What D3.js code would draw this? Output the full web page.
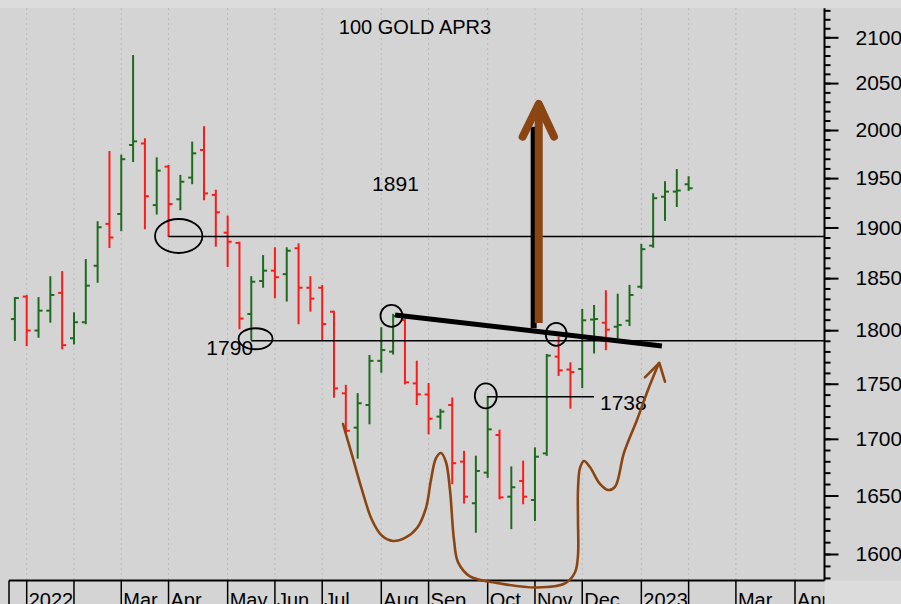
<!DOCTYPE html>
<html>
<head>
<meta charset="utf-8">
<script src="https://cdn.jsdelivr.net/npm/d3@7"></script>
<style>
  html, body { margin: 0; padding: 0; background: #d4d4d4; }
  svg { display: block; }
  text { font-family: "Liberation Sans", Arial, sans-serif; fill: #000; }
</style>
</head>
<body>
<svg id="chart" width="901" height="604"></svg>
<script>
// ---- Weekly bars, 100 oz gold, April 2023 contract (semi-log price scale) ----
const title = "100 GOLD APR3";
const firstWeek = "2021-12-31";   // week-ending Friday of the first bar

const opens = [1810.6, 1832.1, 1799.7, 1818.6, 1835.7, 1792.4, 1807.6, 1862.1, 1903.6, 1913.5,
  1984.3, 1985.9, 1922.5, 1961.8, 1928.4, 1950.5, 1979.1, 1932.8, 1894.8, 1884.6,
  1815.4, 1847.2, 1857.3, 1853.9, 1879.3, 1840.7, 1840.7, 1817.6, 1741.2, 1710,
  1730.5, 1771.2, 1779.8, 1809.6, 1750.3, 1740.1, 1720, 1730.5, 1679.7, 1643.3,
  1670, 1703.4, 1649, 1662.7, 1646.1, 1687, 1775.1, 1763.1, 1763.6, 1810.1,
  1807.1, 1803.3, 1809, 1841.7, 1881.9, 1931, 1936.2, 1943.7];
const highs = [1830.7, 1832.7, 1830.7, 1850.9, 1855.9, 1816.1, 1867.7, 1905.2, 1977, 1973.1,
  2079.4, 1990.3, 1970.4, 1962.5, 1952.3, 1986.8, 2002.9, 1937.1, 1910.9, 1884.8,
  1850.9, 1871.6, 1879.3, 1879.3, 1883.2, 1850.9, 1842.3, 1817.6, 1748.1, 1740.5,
  1775.7, 1801.9, 1814.6, 1810.1, 1770.4, 1749.7, 1726.1, 1736.4, 1688.4, 1684.1,
  1738, 1707.3, 1674.6, 1679.7, 1691.5, 1776.7, 1793.1, 1768.9, 1819.3, 1823.1,
  1837.3, 1834, 1842.5, 1882.7, 1933.5, 1945.8, 1958.3, 1950.9];
const lows = [1790.8, 1785.9, 1793.8, 1808.1, 1782.9, 1787.6, 1806.6, 1846.5, 1880.6, 1897.3,
  1967.6, 1899.2, 1914, 1891.5, 1918.3, 1944.8, 1928.4, 1881.9, 1861.9, 1801.9,
  1791.4, 1841.7, 1831.5, 1828.3, 1806.6, 1818.6, 1791.4, 1738.1, 1706.3, 1683.2,
  1713.9, 1761.1, 1778, 1750.3, 1731.4, 1704.9, 1709.5, 1660.7, 1643.9, 1618.9,
  1666.3, 1647.6, 1621.9, 1643.3, 1628.9, 1685.7, 1758.1, 1728.1, 1747, 1779,
  1782.1, 1793.1, 1804.9, 1840.7, 1880.8, 1907.6, 1921.6, 1937.9];
const closes = [1830.7, 1799.7, 1818.6, 1833.7, 1785.9, 1807.6, 1842.7, 1900.2, 1890, 1969.5,
  1988.1, 1931.5, 1957.7, 1923.6, 1946.3, 1975.6, 1934.4, 1915.3, 1885.8, 1811.1,
  1846.5, 1857.3, 1850.9, 1876.9, 1840.7, 1830.2, 1805.9, 1745.7, 1707.2, 1732.1,
  1771.2, 1781.3, 1813.5, 1751.3, 1740.3, 1718.1, 1724.5, 1678.3, 1649, 1671.5,
  1708.5, 1648.4, 1657.2, 1649, 1684.1, 1776.1, 1762.4, 1760.8, 1809.4, 1810.6,
  1800.5, 1804.9, 1833.7, 1878.4, 1929.5, 1936.2, 1937.3, 1939.6];

const yTicks = [1600, 1650, 1700, 1750, 1800, 1850, 1900, 1950, 2000, 2050, 2100];
const monthLabels = ["2022", "", "Mar", "Apr", "May", "Jun", "Jul", "Aug", "Sep",
  "Oct", "Nov", "Dec", "2023", "", "Mar", "Apr"];

// ---- Hand-drawn study, in (week index, price) ----
const levelLabels = [1891, 1790, 1738];
const levelSpans = [[13, null], [20, null], [40, 49]];   // start/end week, null = to the axis
const levelTextPos = [[32.2, 1944.7, "middle"], [16.2, 1783.9, "start"], [49.5, 1732.6, "start"]];
const trendLine = [[32.16, 1814.5], [54.74, 1785.1]];
const rings = [[13.86, 1891.5, 23.7, 17], [20.36, 1791.9, 17, 10.5], [31.86, 1813.7, 11, 11],
  [45.8, 1796.1, 10.5, 11.5], [39.84, 1738.9, 11, 12.5]];
const pathSketch = [[27.76, 1713.3], [28.52, 1685.6], [29.37, 1654.8], [30.21, 1628.9],
  [31.06, 1615.4], [31.99, 1611], [33.0, 1613.6], [34.02, 1622], [34.78, 1639.2],
  [35.2, 1663.5], [35.63, 1682.9], [36.05, 1687.4], [36.47, 1679.4], [36.81, 1654.8],
  [37.15, 1611.9], [37.49, 1593.2], [38.5, 1581.3], [41.04, 1575.4], [44.17, 1572],
  [46.54, 1575.4], [47.39, 1584.7], [47.64, 1599.1], [47.64, 1628.9], [47.64, 1654.8],
  [47.81, 1674.1], [48.15, 1680.3], [48.65, 1674.9], [49.5, 1660.1], [50.18, 1654.8],
  [50.77, 1657.5], [51.53, 1687.4], [52.63, 1716.9], [53.56, 1744.2], [54.49, 1769.1]];
const sketchHead = [[53.3, 1755.9], [54.52, 1769.2], [55.0, 1751.9]];
const targetShadow = [[43.89, 1801.8], [43.89, 2003.5]];
const targetShaft = [[44.32, 1806.8], [44.32, 2022.3]];
const targetHead = [[42.96, 1993], [44.32, 2027.6], [45.61, 1993]];

// ---- Layout ----
const W = 901, H = 604;
const plotLeft = 9, plotRight = 824.5, plotBottom = 580.5, plotTop = 8;
const green = "#1e6b1e", red = "#ff1a1a", brown = "#8b4513";

const parse = d3.timeParse("%Y-%m-%d");
const start = parse(firstWeek);
const dates = opens.map((_, i) => d3.timeDay.offset(start, 7 * i));

const x = d3.scaleTime()
  .domain([start, d3.timeDay.offset(start, 7 * 66)])
  .range([14.88, 795]);
const y = d3.scaleLog().domain([1600, 2100]).range([554, 37.3]);
const xw = w => x(new Date(+start + w * 6048e5));

const svg = d3.select("#chart");
svg.append("rect").attr("width", W).attr("height", H).attr("fill", "#d4d4d4");
svg.append("rect").attr("width", W).attr("height", plotTop).attr("fill", "#dcdcdc");
svg.append("rect").attr("x", plotRight).attr("y", plotBottom)
  .attr("width", W - plotRight).attr("height", H - plotBottom).attr("fill", "#dcdcdc");

// first weekly bar of every month
const allWeeks = d3.range(0, 69).map(i => d3.timeDay.offset(start, 7 * i));
const monthStarts = allWeeks.filter((d, i) => i > 0 && d.getMonth() !== allWeeks[i - 1].getMonth());

// dotted month grid
svg.append("g").selectAll("line").data(monthStarts).join("line")
  .attr("x1", d => x(d)).attr("x2", d => x(d))
  .attr("y1", plotTop).attr("y2", plotBottom)
  .attr("stroke", "#b9b9b9").attr("stroke-width", 1).attr("stroke-dasharray", "2,3");

// title
svg.append("text").attr("x", 415).attr("y", 27).attr("text-anchor", "middle")
  .attr("dominant-baseline", "central").attr("font-size", 20).text(title);

// ---- OHLC bars ----
const bars = svg.append("g").attr("stroke-width", 2);
dates.forEach((d, i) => {
  const prev = i > 0 ? closes[i - 1] : opens[i];
  const col = closes[i] >= prev ? green : red;
  const cx = x(d);
  const g = bars.append("g").attr("stroke", col);
  g.append("line").attr("x1", cx).attr("x2", cx).attr("y1", y(highs[i]) - 1).attr("y2", y(lows[i]) + 1);
  g.append("line").attr("x1", cx - 4).attr("x2", cx).attr("y1", y(opens[i])).attr("y2", y(opens[i]));
  g.append("line").attr("x1", cx).attr("x2", cx + 4).attr("y1", y(closes[i])).attr("y2", y(closes[i]));
});

// ---- Right price axis ----
const axisG = svg.append("g").attr("transform", `translate(${plotRight},0)`);
axisG.append("line").attr("x1", 0).attr("x2", 0)
  .attr("y1", y(2130) - 2).attr("y2", plotBottom).attr("stroke", "#000").attr("stroke-width", 2);
const minor = axisG.append("g")
  .call(d3.axisRight(y).tickValues(d3.range(1580, 2131, 10)).tickSize(6).tickFormat(""));
const major = axisG.append("g")
  .call(d3.axisRight(y).tickValues(yTicks).tickSize(14).tickPadding(17).tickFormat(d3.format("d")));
[minor, major].forEach(a => {
  a.select(".domain").remove();
  a.selectAll(".tick line").attr("stroke", "#000").attr("stroke-width", 2);
});
major.selectAll(".tick text").attr("font-size", 21)
  .attr("font-family", "Liberation Sans, Arial, sans-serif").attr("fill", "#000");

// ---- Bottom date axis ----
const dateAxis = svg.append("g");
dateAxis.append("clipPath").attr("id", "dateClip").append("rect")
  .attr("x", 0).attr("y", plotBottom).attr("width", plotRight).attr("height", H - plotBottom);
dateAxis.append("line").attr("x1", plotLeft).attr("x2", plotRight)
  .attr("y1", plotBottom).attr("y2", plotBottom).attr("stroke", "#000").attr("stroke-width", 2);
const sepX = [plotLeft].concat(monthStarts.map(d => x(d)));
dateAxis.selectAll("line.sep").data(sepX).join("line").attr("class", "sep")
  .attr("x1", d => d).attr("x2", d => d).attr("y1", plotBottom).attr("y2", H)
  .attr("stroke", "#000").attr("stroke-width", 1.5);
dateAxis.append("g").attr("clip-path", "url(#dateClip)")
  .selectAll("text").data(monthStarts).join("text")
  .attr("x", d => x(d) + 2).attr("y", 607).attr("font-size", 20)
  .text((d, i) => monthLabels[i]);

// ---- Study: support / resistance levels ----
const study = svg.append("g");
levelLabels.forEach((lv, i) => {
  const [w0, w1] = levelSpans[i];
  const yy = y(lv);
  study.append("line").attr("x1", xw(w0)).attr("x2", w1 === null ? plotRight : xw(w1))
    .attr("y1", yy).attr("y2", yy).attr("stroke", "#000").attr("stroke-width", 1.4);
  const [tw, tp, anchor] = levelTextPos[i];
  study.append("text").attr("x", xw(tw)).attr("y", y(tp)).attr("text-anchor", anchor)
    .attr("dominant-baseline", "central").attr("font-size", 21).text(lv);
});

study.append("line")
  .attr("x1", xw(trendLine[0][0])).attr("y1", y(trendLine[0][1]))
  .attr("x2", xw(trendLine[1][0])).attr("y2", y(trendLine[1][1]))
  .attr("stroke", "#000").attr("stroke-width", 5);

study.selectAll("ellipse").data(rings).join("ellipse")
  .attr("cx", d => xw(d[0])).attr("cy", d => y(d[1]))
  .attr("rx", d => d[2]).attr("ry", d => d[3])
  .attr("fill", "none").attr("stroke", "#000").attr("stroke-width", 1.8);

const smooth = d3.line().x(d => xw(d[0])).y(d => y(d[1])).curve(d3.curveCatmullRom.alpha(0.5));
const straight = d3.line().x(d => xw(d[0])).y(d => y(d[1]));
study.append("path").attr("d", smooth(pathSketch))
  .attr("fill", "none").attr("stroke", brown).attr("stroke-width", 2.6).attr("stroke-linecap", "round");
study.append("path").attr("d", straight(sketchHead))
  .attr("fill", "none").attr("stroke", brown).attr("stroke-width", 2.6)
  .attr("stroke-linecap", "round").attr("stroke-linejoin", "round");

// price target arrow
study.append("path").attr("d", straight(targetShadow))
  .attr("stroke", "#000").attr("stroke-width", 6).attr("fill", "none");
study.append("path").attr("d", straight(targetShaft))
  .attr("stroke", brown).attr("stroke-width", 8).attr("fill", "none");
study.append("path").attr("d", straight(targetHead))
  .attr("stroke", brown).attr("stroke-width", 8).attr("fill", "none")
  .attr("stroke-linecap", "round").attr("stroke-linejoin", "round");
</script>
</body>
</html>
